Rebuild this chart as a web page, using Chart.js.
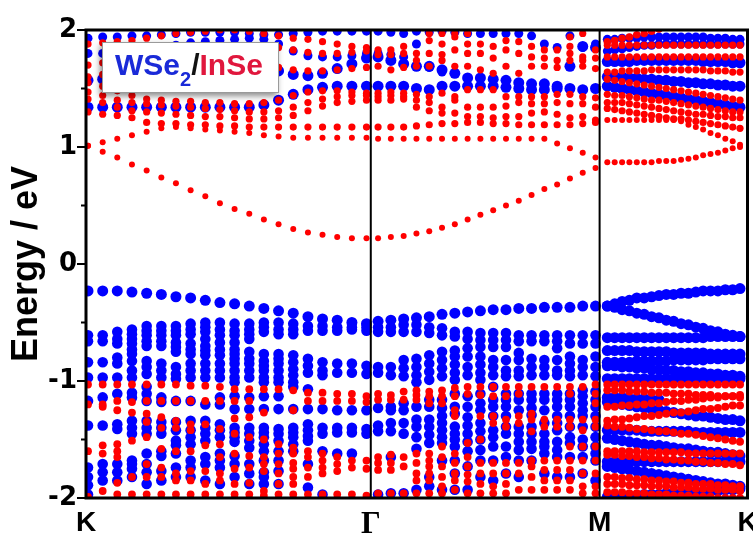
<!DOCTYPE html>
<html>
<head>
<meta charset="utf-8">
<title>WSe2/InSe band structure</title>
<script src="https://cdn.jsdelivr.net/npm/chart.js@4.4.1/dist/chart.umd.min.js"></script>
<style>
  html, body { margin: 0; padding: 0; background: #fff; }
</style>
</head>
<body>
<canvas id="bandas" width="753" height="533"></canvas>
<script>
// k-path coordinates (path length units) of the sampled k-points on each segment
const kKG = [0.02, 0.167, 0.313, 0.46, 0.607, 0.754, 0.9, 1.047, 1.194, 1.34, 1.487, 1.634, 1.78, 1.927, 2.074, 2.221, 2.367, 2.514, 2.661, 2.807];
const kGM = [2.923, 3.051, 3.179, 3.307, 3.435, 3.563, 3.691, 3.819, 3.947, 4.075, 4.203, 4.331, 4.459, 4.587, 4.715, 4.843, 4.971, 5.099];
const kMK = [5.217, 5.291, 5.365, 5.438, 5.512, 5.586, 5.66, 5.734, 5.807, 5.881, 5.955, 6.029, 6.103, 6.176, 6.25, 6.324, 6.398, 6.472, 6.545];
const kAll = kKG.concat(kGM, kMK);

// high-symmetry points and energy ticks
const kTicks = [0, 2.85, 5.14, 6.62];
const kLabels = ['K', 'Γ', 'M', 'K'];
const yTicks = [-2, -1.5, -1, -0.5, 0, 0.5, 1, 1.5, 2];

// conduction bands with InSe weight (K-Γ | Γ-M | M-K), eV
const cbInSe1 = [1.01, 0.96, 0.91, 0.85, 0.80, 0.74, 0.69, 0.63, 0.58, 0.52, 0.47, 0.43, 0.38, 0.34, 0.30, 0.27, 0.25, 0.23, 0.22, 0.22,
  0.22, 0.23, 0.24, 0.26, 0.28, 0.31, 0.34, 0.38, 0.42, 0.46, 0.50, 0.54, 0.59, 0.64, 0.68, 0.73, 0.78, 0.82,
  0.87, 0.87, 0.87, 0.87, 0.87, 0.87, 0.87, 0.88, 0.88, 0.88, 0.89, 0.90, 0.91, 0.93, 0.94, 0.95, 0.97, 0.99, 1.00];
const cbInSe2 = [1.01, 1.04, 1.07, 1.10, 1.13, 1.16, 1.17, 1.16, 1.15, 1.14, 1.13, 1.12, 1.10, 1.09, 1.08, 1.08, 1.08, 1.08, 1.08, 1.08,
  1.07, 1.07, 1.07, 1.07, 1.07, 1.07, 1.07, 1.07, 1.07, 1.07, 1.07, 1.07, 1.07, 1.07, 1.03, 0.99, 0.95, 0.91,
  1.23, 1.23, 1.23, 1.23, 1.23, 1.23, 1.23, 1.23, 1.23, 1.23, 1.22, 1.19, 1.17, 1.15, 1.12, 1.10, 1.07, 1.05, 1.02];
const cbInSe3 = [1.30, 1.28, 1.27, 1.25, 1.21, 1.20, 1.20, 1.19, 1.19, 1.18, 1.18, 1.17, 1.17, 1.17, 1.17, 1.17, 1.17, 1.17, 1.17, 1.17,
  1.17, 1.17, 1.17, 1.18, 1.19, 1.20, 1.20, 1.21, 1.21, 1.20, 1.20, 1.19, 1.19, 1.19, 1.19, 1.19, 1.20, 1.21,
  1.33, 1.32, 1.31, 1.30, 1.29, 1.28, 1.27, 1.26, 1.25, 1.24, 1.24, 1.23, 1.22, 1.21, 1.20, 1.19, 1.18, 1.17, 1.16];
const cbInSe4 = [1.41, 1.38, 1.34, 1.31, 1.30, 1.29, 1.28, 1.27, 1.26, 1.26, 1.25, 1.24, 1.24, 1.25, 1.27, 1.31, 1.35, 1.38, 1.39, 1.40,
  1.40, 1.40, 1.41, 1.34, 1.31, 1.29, 1.29, 1.26, 1.26, 1.25, 1.26, 1.26, 1.29, 1.30, 1.28, 1.25, 1.26, 1.23,
  1.38, 1.38, 1.38, 1.37, 1.36, 1.35, 1.34, 1.33, 1.32, 1.31, 1.30, 1.29, 1.28, 1.28, 1.27, 1.26, 1.26, 1.25, 1.25];
const cbInSe5 = [1.47, 1.44, 1.40, 1.38, 1.37, 1.36, 1.35, 1.34, 1.33, 1.32, 1.31, 1.30, 1.30, 1.31, 1.34, 1.38, 1.41, 1.43, 1.44, 1.44,
  1.43, 1.44, 1.43, 1.40, 1.38, 1.34, 1.40, 1.34, 1.34, 1.34, 1.35, 1.38, 1.37, 1.37, 1.38, 1.37, 1.37, 1.34,
  1.45, 1.44, 1.44, 1.43, 1.42, 1.41, 1.40, 1.40, 1.39, 1.38, 1.37, 1.36, 1.35, 1.34, 1.33, 1.32, 1.31, 1.30, 1.30];
const cbInSe6 = [1.55, 1.52, 1.48, 1.44, 1.41, 1.40, 1.39, 1.39, 1.38, 1.38, 1.37, 1.37, 1.38, 1.40, 1.44, 1.47, 1.48, 1.48, 1.47, 1.46,
  1.46, 1.47, 1.46, 1.45, 1.43, 1.46, 1.43, 1.49, 1.49, 1.49, 1.43, 1.43, 1.43, 1.43, 1.45, 1.45, 1.43, 1.42,
  1.58, 1.57, 1.56, 1.55, 1.54, 1.53, 1.52, 1.51, 1.50, 1.49, 1.48, 1.47, 1.46, 1.45, 1.44, 1.43, 1.42, 1.41, 1.40];
const cbInSe7 = [1.60, 1.62, 1.64, 1.66, 1.68, 1.70, 1.72, 1.73, 1.74, 1.74, 1.73, 1.72, 1.70, 1.68, 1.66, 1.65, 1.65, 1.66, 1.67, 1.68,
  1.69, 1.66, 1.68, 1.69, 1.69, 1.74, 1.69, 1.69, 1.66, 1.63, 1.69, 1.63, 1.69, 1.69, 1.68, 1.74, 1.69, 1.67,
  1.64, 1.64, 1.65, 1.65, 1.65, 1.65, 1.66, 1.66, 1.66, 1.66, 1.66, 1.66, 1.66, 1.66, 1.65, 1.65, 1.65, 1.64, 1.64];
const cbInSe8 = [1.70, 1.72, 1.74, 1.76, 1.78, 1.80, 1.81, 1.82, 1.83, 1.84, 1.85, 1.86, 1.86, 1.85, 1.83, 1.81, 1.80, 1.80, 1.81, 1.82,
  1.83, 1.83, 1.80, 1.80, 1.80, 1.79, 1.83, 1.80, 1.80, 1.76, 1.83, 1.80, 1.77, 1.76, 1.74, 1.80, 1.77, 1.76,
  1.77, 1.77, 1.77, 1.77, 1.77, 1.77, 1.77, 1.77, 1.77, 1.77, 1.77, 1.77, 1.77, 1.77, 1.77, 1.77, 1.77, 1.77, 1.77];
const cbInSe9 = [1.88, 1.89, 1.90, 1.91, 1.93, 1.95, 1.97, 1.98, 1.99, 2.00, 2.00, 1.99, 1.97, 1.95, 1.93, 1.92, 1.90, 1.88, 1.86, 1.85,
  1.79, 1.79, 1.86, 1.74, 1.91, 1.88, 1.94, 1.88, 1.88, 1.86, 1.91, 1.90, 1.86, 1.83, 1.83, 1.86, 1.74, 1.83,
  1.87, 1.87, 1.87, 1.87, 1.87, 1.87, 1.87, 1.87, 1.87, 1.87, 1.87, 1.87, 1.87, 1.87, 1.87, 1.87, 1.87, 1.87, 1.87];
const cbInSeTopGM = [null, null, null, null, 1.97, 1.97, 1.97, 1.97, null, null, null, null, null, null, null, 1.94, 1.97, null];
const cbInSeTopMK = [1.90, 1.91, 1.93, 1.94, 1.96, 1.97, 1.99, 2.01, null, null, null, null, null, null, null, null, null, null, null];

// conduction bands with WSe2 weight
const cbWSe1 = [1.34, 1.34, 1.34, 1.34, 1.34, 1.34, 1.34, 1.34, 1.34, 1.34, 1.34, 1.34, 1.36, 1.40, 1.45, 1.49, 1.51, 1.52, 1.52, 1.52,
  1.52, 1.52, 1.52, 1.50, 1.49, 1.52, 1.52, 1.52, 1.52, 1.52, 1.51, 1.50, 1.49, 1.49, 1.50, 1.50, 1.49, 1.50,
  1.52, 1.51, 1.50, 1.49, 1.48, 1.47, 1.46, 1.45, 1.44, 1.43, 1.42, 1.41, 1.40, 1.39, 1.38, 1.37, 1.36, 1.35, 1.34];
const cbWSe2 = [1.57, 1.58, 1.60, 1.62, 1.64, 1.66, 1.68, 1.69, 1.70, 1.70, 1.70, 1.69, 1.68, 1.65, 1.62, 1.61, 1.63, 1.67, 1.71, 1.76,
  1.77, 1.74, 1.71, 1.69, 1.69, 1.66, 1.63, 1.59, 1.59, 1.58, 1.57, 1.55, 1.54, 1.54, 1.52, 1.69, 1.86, 1.85,
  1.73, 1.73, 1.73, 1.73, 1.74, 1.74, 1.74, 1.74, 1.74, 1.74, 1.74, 1.74, 1.74, 1.73, 1.73, 1.73, 1.73, 1.72, 1.72];
const cbWSe3 = [1.80, 1.80, 1.81, 1.82, 1.83, 1.85, 1.87, 1.89, 1.90, 1.91, 1.92, 1.93, 1.92, 1.88, 1.82, 1.78, 1.77, 1.77, 1.78, 1.80,
  1.80, 1.79, 1.77, 1.88, 1.68, 1.64, null, null, 1.97, 1.97, 1.97, 1.97, 1.95, 1.88, 1.85, null, 1.85, 1.88,
  1.82, 1.83, 1.84, 1.85, 1.86, 1.87, 1.87, 1.88, 1.88, 1.88, 1.88, 1.88, 1.88, 1.88, 1.88, 1.88, 1.88, 1.88, 1.88];
const cbWSe4 = [1.93, 1.94, 1.94, 1.95, 1.95, 1.96, 1.97, 1.98, 1.98, 1.98, 1.98, 1.97, 1.96, 1.96, 1.97, 1.98, 1.99, 1.99, 1.99, 1.99,
  1.99, 1.98, 1.97, 1.99, 1.98, 1.99, 1.98, 1.97, null, null, null, null, null, null, null, 1.95, null, null,
  1.92, 1.92, 1.93, 1.93, 1.93, 1.94, 1.94, 1.94, 1.94, 1.94, 1.94, 1.94, 1.94, 1.94, 1.93, 1.93, 1.93, 1.92, 1.92];
const cbWSeMK5 = [1.60, 1.60, 1.60, 1.59, 1.59, 1.58, 1.58, 1.57, 1.57, 1.56, 1.56, 1.55, 1.55, 1.54, 1.54, 1.53, 1.53, 1.52, 1.52];

// valence band maximum (WSe2)
const vbWSeTop = [-0.23, -0.23, -0.23, -0.24, -0.25, -0.26, -0.28, -0.29, -0.31, -0.33, -0.34, -0.36, -0.38, -0.40, -0.42, -0.45, -0.47, -0.48, -0.50, -0.51,
  -0.49, -0.48, -0.47, -0.46, -0.45, -0.43, -0.42, -0.41, -0.40, -0.39, -0.39, -0.38, -0.38, -0.37, -0.37, -0.37, -0.36, -0.36,
  -0.36, -0.34, -0.32, -0.31, -0.29, -0.29, -0.28, -0.27, -0.26, -0.26, -0.25, -0.25, -0.24, -0.23, -0.23, -0.23, -0.22, -0.22, -0.21];

// dense valence manifold along K-Γ, energies listed per k-point
const vbWSeKG = [
  [-0.61, -0.66, -0.84, -0.97, -1.17, -1.38, -1.74, -1.82, -1.89, -1.97],
  [-0.61, -0.66, -0.84, -0.97, -1.14, -1.38, -1.71, -1.78, -1.85],
  [-0.58, -0.64, -0.68, -0.80, -0.85, -0.97, -1.11, -1.37, -1.41, -1.71, -1.78, -1.85],
  [-0.56, -0.60, -0.64, -0.68, -0.73, -0.77, -0.83, -0.91, -0.97, -1.10, -1.14, -1.34, -1.40, -1.45, -1.68, -1.71, -1.75, -1.82],
  [-0.53, -0.57, -0.61, -0.66, -0.70, -0.83, -0.88, -0.94, -1.05, -1.11, -1.17, -1.34, -1.40, -1.45, -1.62, -1.71, -1.78, -1.88],
  [-0.53, -0.57, -0.61, -0.66, -0.70, -0.85, -0.91, -0.97, -1.14, -1.18, -1.35, -1.40, -1.45, -1.60, -1.64, -1.77, -1.85],
  [-0.53, -0.57, -0.61, -0.67, -0.71, -0.75, -0.88, -0.94, -0.98, -1.17, -1.35, -1.42, -1.51, -1.55, -1.62, -1.74, -1.82],
  [-0.51, -0.56, -0.60, -0.68, -0.73, -0.77, -0.85, -0.91, -0.97, -1.17, -1.34, -1.42, -1.48, -1.54, -1.68, -1.74, -1.82],
  [-0.50, -0.54, -0.58, -0.64, -0.70, -0.74, -0.78, -0.85, -0.91, -0.97, -1.20, -1.34, -1.40, -1.45, -1.51, -1.65, -1.71, -1.85],
  [-0.50, -0.56, -0.61, -0.67, -0.73, -0.78, -0.85, -0.91, -0.97, -1.14, -1.20, -1.37, -1.42, -1.48, -1.62, -1.68, -1.74, -1.88],
  [-0.51, -0.57, -0.61, -0.67, -0.73, -0.77, -0.81, -0.85, -0.91, -0.97, -1.01, -1.13, -1.24, -1.40, -1.44, -1.48, -1.52, -1.64, -1.71, -1.82],
  [-0.51, -0.56, -0.60, -0.64, -0.75, -0.81, -0.85, -0.91, -0.97, -1.14, -1.24, -1.40, -1.45, -1.51, -1.57, -1.71, -1.79, -1.88],
  [-0.50, -0.54, -0.58, -0.77, -0.83, -0.87, -0.91, -0.97, -1.01, -1.13, -1.24, -1.40, -1.44, -1.48, -1.54, -1.60, -1.68, -1.78, -1.82, -1.88],
  [-0.50, -0.56, -0.60, -0.77, -0.81, -0.85, -0.91, -0.97, -1.01, -1.13, -1.24, -1.41, -1.45, -1.51, -1.60, -1.68, -1.77, -1.88],
  [-0.51, -0.56, -0.60, -0.78, -0.84, -0.90, -0.95, -1.01, -1.05, -1.24, -1.40, -1.44, -1.48, -1.54, -1.60],
  [-0.53, -0.57, -0.81, -0.87, -0.93, -1.07, -1.24, -1.37, -1.42, -1.47, -1.51, -1.71, -1.91],
  [-0.53, -0.57, -0.84, -0.91, -0.95, -1.24, -1.40, -1.45, -1.60, -1.97],
  [-0.54, -0.57, -0.85, -0.93, -1.25, -1.40, -1.44, -1.62],
  [-0.54, -0.56, -0.85, -0.93, -1.25, -1.40, -1.44, -1.62],
  [-0.54, -0.57, -0.87, -0.94, -1.25, -1.41, -1.45]
];
const vbInSeKG = [
  [-1.03, -1.20, -1.60, -1.99],
  [-1.03, -1.20, -1.22, -1.55, -1.62, -1.94],
  [-1.03, -1.17, -1.25, -1.54, -1.60, -1.65, -1.87, -1.97],
  [-1.03, -1.18, -1.27, -1.51, -1.82, -1.97],
  [-1.03, -1.17, -1.28, -1.35, -1.48, -1.71, -1.82, -1.97],
  [-1.03, -1.17, -1.31, -1.40, -1.58, -1.74, -1.82, -1.97],
  [-1.03, -1.17, -1.34, -1.40, -1.60, -1.79, -1.85, -1.97],
  [-1.04, -1.17, -1.37, -1.42, -1.60, -1.77, -1.85, -1.97],
  [-1.04, -1.17, -1.37, -1.55, -1.77, -1.88, -1.97],
  [-1.05, -1.17, -1.41, -1.54, -1.65, -1.79, -1.85, -1.97],
  [-1.07, -1.17, -1.32, -1.45, -1.62, -1.75, -1.88, -1.97],
  [-1.07, -1.17, -1.31, -1.48, -1.64, -1.74, -1.87, -1.97],
  [-1.07, -1.27, -1.50, -1.65, -1.71, -1.77, -1.94, -1.98],
  [-1.07, -1.54, -1.62, -1.71, -1.79, -1.88, -1.97],
  [-1.08, -1.25, -1.57, -1.62, -1.70, -1.75, -1.82, -1.88, -1.97],
  [-1.10, -1.17, -1.60, -1.65, -1.74, -1.82, -1.97],
  [-1.10, -1.17, -1.62, -1.68, -1.74, -1.79, -1.97],
  [-1.11, -1.17, -1.65, -1.71, -1.77, -1.97],
  [-1.11, -1.17, -1.68, -1.74, -1.97],
  [-1.13, -1.18, -1.68, -1.75, -1.98]
];

// dense valence manifold along Γ-M, energies listed per k-point
const vbWSeGM = [
  [-0.54, -0.58, -0.88, -0.93, -1.23, -1.38, -1.43, -1.97],
  [-0.54, -0.58, -0.88, -0.95, -1.22, -1.25, -1.36, -1.43, -1.65, -1.96],
  [-0.52, -0.58, -0.82, -0.89, -0.96, -1.19, -1.25, -1.36, -1.45, -1.96],
  [-0.52, -0.58, -0.81, -0.88, -0.95, -1.01, -1.22, -1.33, -1.39, -1.48, -1.58, -1.93],
  [-0.54, -0.59, -0.78, -0.85, -0.92, -0.99, -1.16, -1.22, -1.33, -1.39, -1.46, -1.53, -1.82, -1.90],
  [-0.55, -0.61, -0.75, -0.82, -0.89, -0.96, -1.16, -1.23, -1.30, -1.36, -1.42, -1.48, -1.53, -1.68, -1.93],
  [-0.58, -0.62, -0.74, -0.79, -0.86, -0.93, -0.99, -1.11, -1.22, -1.28, -1.39, -1.45, -1.50, -1.56, -1.68, -1.79, -1.93],
  [-0.58, -0.64, -0.72, -0.79, -0.88, -0.95, -1.13, -1.22, -1.31, -1.38, -1.45, -1.52, -1.60, -1.73, -1.93],
  [-0.59, -0.65, -0.71, -0.79, -0.86, -0.93, -0.99, -1.11, -1.19, -1.25, -1.36, -1.43, -1.50, -1.59, -1.68, -1.82],
  [-0.59, -0.65, -0.71, -0.82, -0.88, -0.95, -1.05, -1.16, -1.22, -1.30, -1.42, -1.48, -1.56, -1.68, -1.85],
  [-0.59, -0.65, -0.71, -0.82, -0.91, -0.96, -1.11, -1.16, -1.22, -1.30, -1.39, -1.45, -1.56, -1.65, -1.79],
  [-0.61, -0.66, -0.76, -0.82, -0.91, -0.96, -1.11, -1.16, -1.25, -1.39, -1.45, -1.52, -1.59, -1.68, -1.82],
  [-0.61, -0.66, -0.81, -0.88, -0.95, -1.11, -1.16, -1.23, -1.29, -1.39, -1.45, -1.52, -1.58, -1.68],
  [-0.61, -0.66, -0.82, -0.88, -0.95, -1.11, -1.16, -1.25, -1.36, -1.45, -1.52, -1.56, -1.62, -1.79],
  [-0.61, -0.66, -0.72, -0.82, -0.91, -0.95, -1.11, -1.16, -1.22, -1.30, -1.36, -1.42, -1.52, -1.59, -1.65, -1.82],
  [-0.61, -0.68, -0.79, -0.85, -0.91, -0.96, -1.11, -1.16, -1.22, -1.30, -1.39, -1.48, -1.53, -1.65, -1.82],
  [-0.61, -0.68, -0.82, -0.88, -0.95, -1.08, -1.13, -1.19, -1.25, -1.30, -1.39, -1.50, -1.56, -1.65, -1.79],
  [-0.61, -0.68, -0.79, -0.88, -0.96, -1.09, -1.16, -1.22, -1.30, -1.39, -1.48, -1.56, -1.62, -1.68, -1.85]
];
const vbInSeGM = [
  [-1.11, -1.16, -1.65, -1.70, -1.76, -1.96],
  [-1.12, -1.16, -1.63, -1.70, -1.76, -1.96],
  [-1.09, -1.16, -1.65, -1.73, -1.96],
  [-1.08, -1.12, -1.16, -1.62, -1.70, -1.79, -1.85, -1.96],
  [-1.09, -1.13, -1.19, -1.62, -1.68, -1.73, -1.79, -1.85, -1.96],
  [-1.08, -1.13, -1.19, -1.56, -1.65, -1.73, -1.82, -1.90, -1.96],
  [-1.06, -1.13, -1.25, -1.30, -1.62, -1.70, -1.79, -1.85, -1.93],
  [-1.05, -1.11, -1.53, -1.65, -1.73, -1.80, -1.86, -1.96],
  [-1.05, -1.12, -1.30, -1.50, -1.70, -1.79, -1.88, -1.96],
  [-1.05, -1.13, -1.30, -1.36, -1.70, -1.79, -1.90, -1.96],
  [-1.05, -1.13, -1.33, -1.39, -1.70, -1.79, -1.88, -1.96],
  [-1.05, -1.11, -1.30, -1.36, -1.70, -1.79, -1.93],
  [-1.05, -1.28, -1.33, -1.43, -1.68, -1.73, -1.82, -1.93],
  [-1.05, -1.33, -1.39, -1.68, -1.76, -1.85, -1.93],
  [-1.05, -1.33, -1.39, -1.68, -1.76, -1.85, -1.93],
  [-1.05, -1.11, -1.33, -1.39, -1.56, -1.68, -1.76, -1.85, -1.93],
  [-1.05, -1.33, -1.42, -1.56, -1.68, -1.79, -1.90, -1.96],
  [-1.03, -1.11, -1.19, -1.33, -1.39, -1.56, -1.68, -1.79, -1.90, -1.96]
];

// valence bands along M-K, WSe2 weight
const vbWSeMK1 = [-0.36, -0.37, -0.39, -0.40, -0.42, -0.43, -0.45, -0.46, -0.48, -0.49, -0.51, -0.52, -0.54, -0.55, -0.57, -0.58, -0.60, -0.61, -0.62];
const vbWSeMK2 = [-0.63, -0.63, -0.63, -0.63, -0.63, -0.63, -0.63, -0.63, -0.63, -0.63, -0.63, -0.63, -0.63, -0.63, -0.62, -0.62, -0.62, -0.62, -0.62];
const vbWSeMK3 = [-0.74, -0.74, -0.74, -0.74, -0.75, -0.75, -0.75, -0.75, -0.75, -0.76, -0.76, -0.76, -0.76, -0.76, -0.77, -0.77, -0.77, -0.77, -0.77];
const vbWSeMK4 = [-0.84, -0.84, -0.84, -0.84, -0.83, -0.83, -0.83, -0.83, -0.83, -0.82, -0.82, -0.82, -0.82, -0.82, -0.81, -0.81, -0.81, -0.81, -0.81];
const vbWSeMK5 = [-0.87, -0.87, -0.88, -0.88, -0.89, -0.89, -0.90, -0.90, -0.91, -0.91, -0.92, -0.92, -0.93, -0.93, -0.94, -0.94, -0.95, -0.95, -0.96];
const vbWSeMK6 = [-0.98, -0.98, -0.98, -0.98, -0.98, -0.98, -0.98, -0.98, -0.98, -0.98, -0.98, -0.98, -0.98, -0.98, -0.98, -0.98, -0.98, -0.98, -0.98];
const vbWSeMK7 = [-1.18, -1.19, -1.20, -1.21, -1.22, -1.23, -1.24, -1.25, -1.26, -1.27, -1.28, -1.29, -1.30, -1.30, -1.31, -1.32, -1.33, -1.33, -1.34];
const vbWSeMK8 = [-1.14, -1.14, -1.14, -1.15, -1.15, -1.15, -1.16, -1.16, null, null, null, null, null, null, null, null, null, null, null];
const vbWSeMK9 = [-1.42, -1.42, -1.42, -1.42, -1.42, -1.43, -1.43, -1.43, -1.43, -1.43, -1.43, -1.43, -1.44, -1.44, -1.44, -1.44, -1.44, -1.44, -1.44];
const vbWSeMK10 = [-1.49, -1.50, -1.51, -1.52, -1.53, -1.54, -1.55, -1.55, -1.56, -1.57, -1.58, -1.58, -1.59, -1.60, -1.61, -1.61, -1.62, -1.63, -1.64];
const vbWSeMK11 = [-1.69, -1.69, -1.69, -1.69, -1.69, -1.69, -1.69, -1.69, -1.69, -1.69, -1.69, -1.69, -1.69, -1.69, -1.69, -1.69, -1.69, -1.69, -1.69];
const vbWSeMK12 = [-1.73, -1.74, -1.75, -1.76, -1.77, -1.78, -1.79, -1.80, -1.81, -1.82, -1.83, -1.84, -1.85, -1.86, -1.87, -1.88, -1.88, -1.89, -1.90];
const vbWSeMK13 = [-1.99, -1.99, -1.98, -1.98, -1.98, -1.97, -1.97, -1.97, -1.96, -1.96, -1.96, -1.95, -1.95, -1.95, -1.94, -1.94, -1.93, -1.93, -1.92];

// valence bands along M-K, InSe weight
const vbInSeMK1 = [-1.03, -1.03, -1.03, -1.03, -1.03, -1.03, -1.03, -1.03, -1.03, -1.03, -1.03, -1.03, -1.03, -1.03, -1.03, -1.03, -1.03, -1.03, -1.03];
const vbInSeMK2 = [-1.08, -1.08, -1.08, -1.09, -1.09, -1.09, -1.10, -1.10, -1.10, -1.11, -1.11, -1.11, -1.12, -1.12, -1.12, -1.13, -1.13, -1.13, -1.14];
const vbInSeMK3 = [-1.22, -1.22, -1.21, -1.21, -1.20, -1.20, -1.19, -1.19, -1.18, -1.17, -1.17, -1.16, -1.16, -1.15, -1.14, -1.14, -1.13, -1.13, -1.12];
const vbInSeMK4 = [-1.34, -1.33, -1.33, -1.32, -1.31, -1.30, -1.30, -1.29, -1.28, -1.27, -1.27, -1.26, -1.25, -1.24, -1.24, -1.23, -1.22, -1.21, -1.21];
const vbInSeMK5 = [-1.38, -1.39, -1.39, -1.40, -1.41, -1.41, -1.42, -1.43, -1.43, -1.44, -1.45, -1.45, -1.46, -1.47, -1.48, -1.49, -1.50, -1.51, -1.52];
const vbInSeMK6 = [-1.60, -1.60, -1.60, -1.60, -1.60, -1.61, -1.61, -1.61, -1.61, -1.61, -1.61, -1.62, -1.62, -1.62, -1.62, -1.62, -1.62, -1.62, -1.62];
const vbInSeMK7 = [-1.63, -1.63, -1.64, -1.64, -1.65, -1.65, -1.66, -1.66, -1.67, -1.67, -1.68, -1.68, -1.69, -1.69, -1.70, -1.70, -1.71, -1.71, -1.72];
const vbInSeMK8 = [-1.82, -1.82, -1.83, -1.83, -1.84, -1.84, -1.85, -1.85, -1.86, -1.86, -1.87, -1.87, -1.88, -1.88, -1.88, -1.89, -1.89, -1.90, -1.90];
const vbInSeMK9 = [-1.88, -1.88, -1.88, -1.89, -1.89, -1.89, -1.90, -1.90, -1.90, -1.91, -1.91, -1.91, -1.92, -1.92, -1.92, -1.93, -1.93, -1.93, -1.94];
const vbInSeMK10 = [-1.95, -1.95, -1.95, -1.96, -1.96, -1.96, -1.97, -1.97, -1.97, -1.98, -1.98, -1.98, -1.99, -1.99, -1.99, -2.00, -2.00, -2.00, -2.00];

const corWSe = '#0000ff';
const corInSe = '#ff0000';
const fonteSans = '"Liberation Sans", Arial, sans-serif';

// Turn one band (energies along a k list) into scatter points
function pontosBanda(energias, ks) {
  const pts = [];
  energias.forEach((e, i) => {
    if (e !== null) pts.push({ x: ks[i], y: e });
  });
  return pts;
}

// Turn per-k-point energy lists into scatter points
function pontosColunas(colunas, ks) {
  const pts = [];
  colunas.forEach((col, i) => col.forEach(e => pts.push({ x: ks[i], y: e })));
  return pts;
}

// One scatter dataset; InSe is drawn above WSe2
function conjunto(pontos, cor, raio) {
  return {
    data: pontos,
    backgroundColor: cor,
    pointRadius: raio,
    pointHoverRadius: raio,
    pointBorderWidth: 0,
    clip: 0,
    order: cor === corInSe ? 0 : 1
  };
}

const datasets = [];

// InSe (red)
[cbInSe1, cbInSe2].forEach(b => datasets.push(conjunto(pontosBanda(b, kAll), corInSe, 3)));
[cbInSe3, cbInSe4, cbInSe5, cbInSe6, cbInSe7, cbInSe8, cbInSe9].forEach(b => datasets.push(conjunto(pontosBanda(b, kAll), corInSe, 3.6)));
datasets.push(conjunto(pontosBanda(cbInSeTopGM, kGM), corInSe, 3.6));
datasets.push(conjunto(pontosBanda(cbInSeTopMK, kMK), corInSe, 3.8));
datasets.push(conjunto(pontosColunas(vbInSeKG, kKG), corInSe, 3.9));
datasets.push(conjunto(pontosColunas(vbInSeGM, kGM), corInSe, 3.9));
[vbInSeMK1, vbInSeMK2, vbInSeMK3, vbInSeMK4, vbInSeMK5, vbInSeMK6, vbInSeMK7, vbInSeMK8, vbInSeMK9, vbInSeMK10]
  .forEach(b => datasets.push(conjunto(pontosBanda(b, kMK), corInSe, 4)));

// WSe2 (blue)
[cbWSe1, cbWSe2].forEach(b => datasets.push(conjunto(pontosBanda(b, kAll), corWSe, 5.5)));
[cbWSe3, cbWSe4].forEach(b => datasets.push(conjunto(pontosBanda(b, kAll), corWSe, 4.5)));
datasets.push(conjunto(pontosBanda(cbWSeMK5, kMK), corWSe, 5.5));
datasets.push(conjunto(pontosBanda(vbWSeTop, kAll), corWSe, 5.5));
datasets.push(conjunto(pontosColunas(vbWSeKG, kKG), corWSe, 5.3));
datasets.push(conjunto(pontosColunas(vbWSeGM, kGM), corWSe, 5.3));
[vbWSeMK1, vbWSeMK2, vbWSeMK3, vbWSeMK4, vbWSeMK5, vbWSeMK6, vbWSeMK7, vbWSeMK8, vbWSeMK9, vbWSeMK10,
  vbWSeMK11, vbWSeMK12, vbWSeMK13].forEach(b => datasets.push(conjunto(pontosBanda(b, kMK), corWSe, 5.5)));

// Frame, Γ/M lines, energy tick marks and the material label box
const molduraPlugin = {
  id: 'moldura',
  afterDatasetsDraw(chart) {
    const { ctx, chartArea: a, scales } = chart;
    ctx.save();
    ctx.strokeStyle = '#000';
    ctx.lineWidth = 2;
    [kTicks[1], kTicks[2]].forEach(k => {
      const px = scales.x.getPixelForValue(k);
      ctx.beginPath();
      ctx.moveTo(px, a.top);
      ctx.lineTo(px, a.bottom);
      ctx.stroke();
    });
    yTicks.forEach(v => {
      const py = scales.y.getPixelForValue(v);
      const len = Number.isInteger(v) ? 9 : 5;
      ctx.beginPath();
      ctx.moveTo(a.left - len, py);
      ctx.lineTo(a.left, py);
      ctx.stroke();
    });
    ctx.lineWidth = 3;
    ctx.strokeRect(a.left, a.top, a.right - a.left, a.bottom - a.top);

    // label box
    const bx = a.left + 16, by = a.top + 12, bw = 177, bh = 51;
    ctx.save();
    ctx.shadowColor = 'rgba(0,0,0,0.45)';
    ctx.shadowBlur = 6;
    ctx.shadowOffsetX = -2;
    ctx.shadowOffsetY = 3;
    ctx.fillStyle = '#fff';
    ctx.fillRect(bx, by, bw, bh);
    ctx.restore();
    ctx.strokeStyle = '#9a9a9a';
    ctx.lineWidth = 1;
    ctx.strokeRect(bx + 0.5, by + 0.5, bw - 1, bh - 1);

    let tx = bx + 13;
    const base = by + 33;
    ctx.textBaseline = 'alphabetic';
    ctx.font = 'bold 30px ' + fonteSans;
    ctx.fillStyle = '#1a2ad8';
    ctx.fillText('WSe', tx, base);
    tx += ctx.measureText('WSe').width;
    ctx.font = 'bold 20px ' + fonteSans;
    ctx.fillText('2', tx, base + 11);
    tx += ctx.measureText('2').width;
    ctx.font = 'bold 30px ' + fonteSans;
    ctx.fillStyle = '#111';
    ctx.fillText('/', tx, base);
    tx += ctx.measureText('/').width;
    ctx.fillStyle = '#e0173d';
    ctx.fillText('InSe', tx, base);
    ctx.restore();
  }
};

new Chart(document.getElementById('bandas').getContext('2d'), {
  type: 'scatter',
  data: { datasets },
  options: {
    responsive: false,
    animation: false,
    devicePixelRatio: 1,
    events: [],
    layout: { padding: { top: 30, right: 5, bottom: 0, left: 0 } },
    plugins: { legend: { display: false }, tooltip: { enabled: false } },
    scales: {
      x: {
        type: 'linear',
        min: 0,
        max: 6.62,
        afterBuildTicks: s => { s.ticks = kTicks.map(v => ({ value: v })); },
        afterFit: s => { s.height = 35; s.paddingLeft = 0; s.paddingRight = 0; },
        grid: { display: false, drawTicks: false },
        border: { display: false },
        ticks: {
          autoSkip: false,
          maxRotation: 0,
          padding: 8,
          color: '#000',
          callback: (v, i) => kLabels[i],
          font: c => (c.index === 1
            ? { family: '"Liberation Serif", "Times New Roman", serif', size: 31, weight: 'bold' }
            : { family: fonteSans, size: 28, weight: 'bold' })
        }
      },
      y: {
        min: -2,
        max: 2,
        afterBuildTicks: s => { s.ticks = yTicks.map(v => ({ value: v })); },
        afterFit: s => { s.width = 86; s.paddingTop = 0; s.paddingBottom = 0; },
        grid: { display: false, drawTicks: false },
        border: { display: false },
        ticks: {
          padding: 9,
          color: '#000',
          font: { family: '"DejaVu Sans", sans-serif', size: 26, weight: 'bold' },
          callback: v => (Number.isInteger(v) ? String(v) : '')
        },
        title: {
          display: true,
          text: 'Energy / eV',
          color: '#000',
          padding: { top: 5, bottom: 0 },
          font: { family: fonteSans, size: 36, weight: 'bold' }
        }
      }
    }
  },
  plugins: [molduraPlugin]
});
</script>
</body>
</html>
